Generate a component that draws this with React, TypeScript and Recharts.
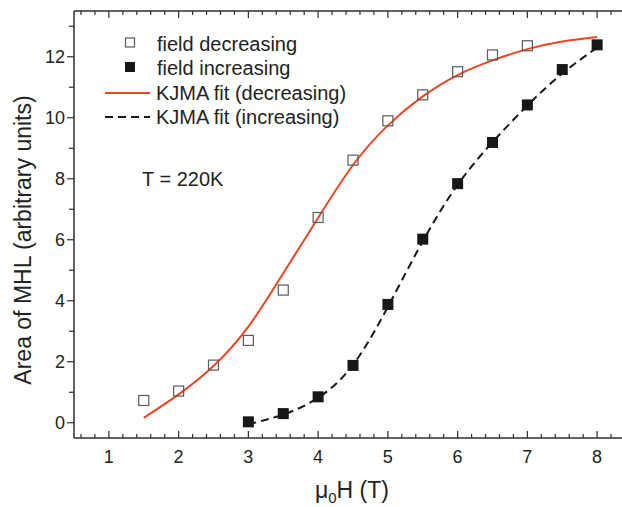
import React from 'react';
import { ComposedChart, Line, Scatter, XAxis, YAxis } from 'recharts';

const fieldDecX = [1.5, 2, 2.5, 3, 3.5, 4, 4.5, 5, 5.5, 6, 6.5, 7];
const fieldDecY = [0.73, 1.04, 1.89, 2.7, 4.35, 6.73, 8.61, 9.9, 10.75, 11.51, 12.06, 12.36];
const fieldIncX = [3, 3.5, 4, 4.5, 5, 5.5, 6, 6.5, 7, 7.5, 8];
const fieldIncY = [0.03, 0.3, 0.85, 1.88, 3.88, 6.02, 7.84, 9.19, 10.42, 11.58, 12.39];

// KJMA fit curves, sampled from the drawn lines
const fitDecX = [1.5, 2, 2.5, 3, 3.5, 4, 4.5, 5, 5.5, 6, 6.5, 7, 7.5, 8];
const fitDecY = [0.16, 0.93, 1.86, 3.15, 4.9, 6.72, 8.45, 9.75, 10.7, 11.4, 11.88, 12.25, 12.5, 12.65];
const fitIncX = [3, 3.5, 4, 4.5, 5, 5.5, 6, 6.5, 7, 7.5, 8];
const fitIncY = [-0.05, 0.27, 0.82, 1.9, 3.8, 5.95, 7.8, 9.2, 10.4, 11.45, 12.3];

// axis ticks
const xMajorTicks = [1, 2, 3, 4, 5, 6, 7, 8];
const xTicks = Array.from({ length: 40 }, (_, i) => Number(((i + 3) * 0.2).toFixed(1)));
const yTicks = [0, 1, 2, 3, 4, 5, 6, 7, 8, 9, 10, 11, 12, 13];
const yLabels = [0, 2, 4, 6, 8, 10, 12];

const FONT = '"Liberation Sans", Arial, sans-serif';
const AXIS = '#2e302c';
const TEXT = '#222320';
const RED = '#ec4524';
const DARK = '#161815';

const zip = (xs: number[], ys: number[]) => xs.map((x, i) => ({ x, y: ys[i] }));
const decData = zip(fieldDecX, fieldDecY);
const incData = zip(fieldIncX, fieldIncY);
const fitDec = zip(fitDecX, fitDecY);
const fitInc = zip(fitIncX, fitIncY);

const isMajorX = (v: number) => xMajorTicks.some((m) => Math.abs(m - v) < 1e-6);

const BottomTick = ({ x, y, payload }: any) => {
  const major = isMajorX(payload.value);
  return (
    <g>
      <line x1={x} x2={x} y1={y} y2={y - (major ? 7 : 4)} stroke={AXIS} strokeWidth={1.2} />
      {major && (
        <text x={x} y={y + 25} textAnchor="middle" fontSize={18} fontFamily={FONT} fill={TEXT}>
          {payload.value}
        </text>
      )}
    </g>
  );
};

const TopTick = ({ x, y, payload }: any) => {
  const major = isMajorX(payload.value);
  return <line x1={x} x2={x} y1={y} y2={y + (major ? 7 : 4)} stroke={AXIS} strokeWidth={1.2} />;
};

const LeftTick = ({ x, y, payload }: any) => {
  const major = yLabels.includes(payload.value);
  return (
    <g>
      <line x1={x - (major ? 7 : 5)} x2={x} y1={y} y2={y} stroke={AXIS} strokeWidth={1.2} />
      {major && (
        <text x={x - 9} y={y + 6.5} textAnchor="end" fontSize={18} fontFamily={FONT} fill={TEXT}>
          {payload.value}
        </text>
      )}
    </g>
  );
};

const OpenSquare = ({ cx, cy }: any) => (
  <rect x={cx - 5} y={cy - 5} width={10} height={10} fill="none" stroke="#5a5c58" strokeWidth={1.2} />
);

const FilledSquare = ({ cx, cy }: any) => (
  <rect x={cx - 5.5} y={cy - 5.5} width={11} height={11} fill={DARK} />
);

export default function App() {
  return (
    <div
      style={{
        position: 'fixed',
        left: 0,
        top: 0,
        width: 622,
        height: 507,
        overflow: 'hidden',
        background: '#fff',
      }}
    >
      <ComposedChart width={640} height={507} margin={{ top: 10, right: 8, bottom: 0, left: 0 }}>
        <XAxis
          dataKey="x"
          type="number"
          domain={[0.5, 8.5]}
          ticks={xTicks}
          interval={0}
          allowDataOverflow
          tickSize={0}
          tickMargin={0}
          tickLine={false}
          axisLine={{ stroke: AXIS, strokeWidth: 1.5 }}
          tick={(p: any) => <BottomTick {...p} />}
          height={69}
        />
        <XAxis
          xAxisId="top"
          orientation="top"
          dataKey="x"
          type="number"
          domain={[0.5, 8.5]}
          ticks={xTicks}
          interval={0}
          allowDataOverflow
          tickSize={0}
          tickMargin={0}
          tickLine={false}
          axisLine={{ stroke: AXIS, strokeWidth: 1.5 }}
          tick={(p: any) => <TopTick {...p} />}
          height={1}
        />
        <YAxis
          dataKey="y"
          type="number"
          domain={[-0.5, 13.5]}
          ticks={yTicks}
          interval={0}
          allowDataOverflow
          tickSize={0}
          tickMargin={0}
          tickLine={false}
          axisLine={{ stroke: AXIS, strokeWidth: 1.5 }}
          tick={(p: any) => <LeftTick {...p} />}
          width={74}
        />

        {/* fit curves */}
        <Line
          data={fitDec}
          dataKey="y"
          type="natural"
          stroke={RED}
          strokeWidth={2}
          dot={false}
          activeDot={false}
          isAnimationActive={false}
        />
        <Line
          data={fitInc}
          dataKey="y"
          type="natural"
          stroke={DARK}
          strokeWidth={2}
          strokeDasharray="8 5"
          dot={false}
          activeDot={false}
          isAnimationActive={false}
        />

        {/* measured points */}
        <Scatter data={decData} dataKey="y" shape={(p: any) => <OpenSquare {...p} />} isAnimationActive={false} />
        <Scatter data={incData} dataKey="y" shape={(p: any) => <FilledSquare {...p} />} isAnimationActive={false} />
      </ComposedChart>

      {/* legend, annotation and axis titles */}
      <svg
        width={622}
        height={507}
        style={{ position: 'absolute', left: 0, top: 0, pointerEvents: 'none' }}
        fontFamily={FONT}
        fill={TEXT}
      >
        <rect x={125.5} y={38} width={9} height={9} fill="none" stroke="#5a5c58" strokeWidth={1.2} />
        <text x={157} y={51} fontSize={20}>field decreasing</text>

        <rect x={125} y={62} width={10} height={10} fill={DARK} />
        <text x={157} y={75} fontSize={20}>field increasing</text>

        <line x1={105} x2={150} y1={93} y2={93} stroke={RED} strokeWidth={2} />
        <text x={156} y={100} fontSize={20}>KJMA fit (decreasing)</text>

        <line x1={105} x2={150} y1={117} y2={117} stroke={DARK} strokeWidth={2} strokeDasharray="8 5" />
        <text x={156} y={124} fontSize={20}>KJMA fit (increasing)</text>

        <text x={142} y={186} fontSize={20}>T = 220K</text>

        <text x={31} y={240} fontSize={23} textAnchor="middle" transform="rotate(-90 31 240)">
          Area of MHL (arbitrary units)
        </text>

        <text x={315} y={498} fontSize={23}>
          μ<tspan fontSize={15} dy={5}>0</tspan>
          <tspan dy={-5}>H (T)</tspan>
        </text>
      </svg>
    </div>
  );
}
